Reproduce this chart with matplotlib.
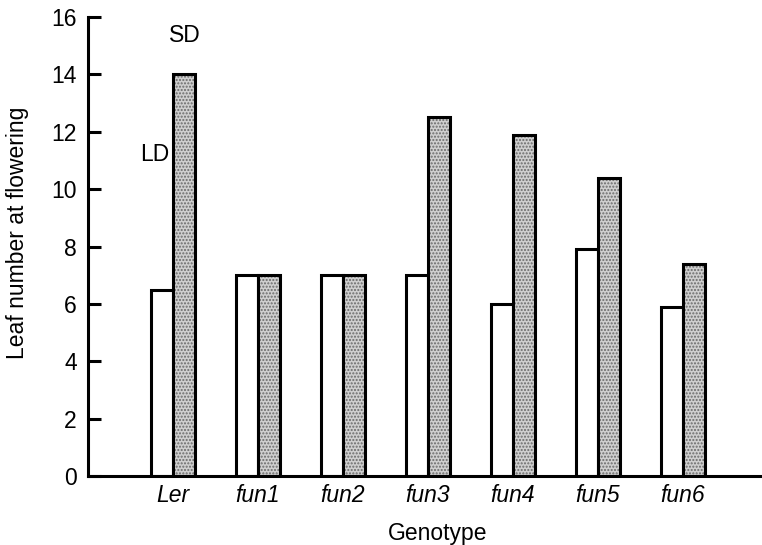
import matplotlib
matplotlib.use("Agg")
import matplotlib.pyplot as plt
import numpy as np

genotypes = ["Ler", "fun1", "fun2", "fun3", "fun4", "fun5", "fun6"]
ld_leaves = [6.5, 7.0, 7.0, 7.0, 6.0, 7.9, 5.9]
sd_leaves = [14.0, 7.0, 7.0, 12.5, 11.9, 10.4, 7.4]
y_ticks = [0, 2, 4, 6, 8, 10, 12, 14, 16]

plt.rcParams["font.family"] = ["Liberation Sans", "DejaVu Sans"]
fs = 16.5

fig = plt.figure(figsize=(7.62, 5.45), dpi=100)
ax = fig.add_axes([88 / 762, 69 / 545, (762 - 88) / 762, (476 - 17) / 545])

x = np.arange(len(genotypes))
width = 22 / 85
lw = 2.2

# long-day bars: open
ax.bar(x - width / 2, ld_leaves, width, facecolor="white", edgecolor="black",
       linewidth=lw, zorder=2)
# short-day bars: stippled grey fill, then a black outline on top
ax.bar(x + width / 2, sd_leaves, width, facecolor="#cfcfcf", edgecolor="#6a6a6a",
       linewidth=0, hatch=".....", zorder=2)
ax.bar(x + width / 2, sd_leaves, width, facecolor="none", edgecolor="black",
       linewidth=lw, zorder=3)

ax.set_xlim(-1, (762 - 173) / 85)
ax.set_ylim(0, 16)
ax.set_yticks(y_ticks)
ax.set_xticks(x)
ax.set_xticklabels(genotypes, fontstyle="italic", fontsize=fs)
ax.tick_params(axis="x", length=0, pad=6)
ax.tick_params(axis="y", direction="in", length=9, width=2.2, labelsize=fs, pad=8)

for side in ("top", "right"):
    ax.spines[side].set_visible(False)
for side in ("left", "bottom"):
    ax.spines[side].set_linewidth(2.2)

ax.set_xlabel("Genotype", fontsize=fs)
ax.set_ylabel("Leaf number at flowering", fontsize=fs)
ax.xaxis.set_label_coords(0.518, -0.100)
ax.yaxis.set_label_coords(-0.088, 0.53)

ax.text(0.14, 15.37, "SD", fontsize=fs, ha="center", va="center")
ax.text(-0.21, 11.19, "LD", fontsize=fs, ha="center", va="center")

fig.savefig("out.png", dpi=100)
